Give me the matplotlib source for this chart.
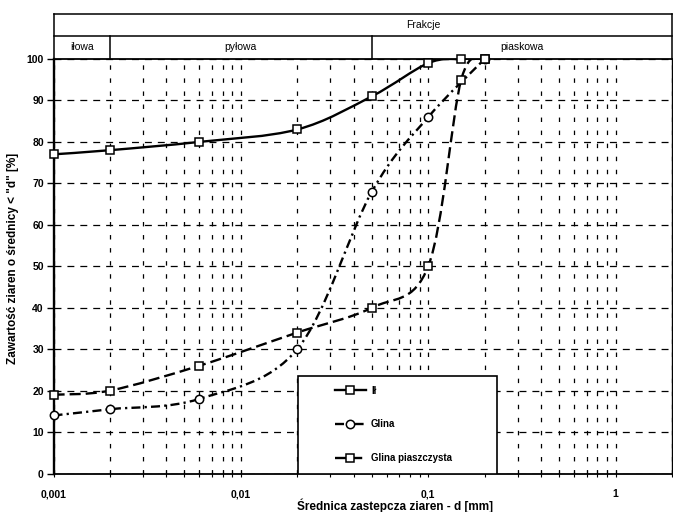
import numpy as np
import matplotlib
matplotlib.use("Agg")
import matplotlib.pyplot as plt
from matplotlib.path import Path
from matplotlib.patches import PathPatch, Rectangle
from matplotlib.lines import Line2D
from matplotlib.ticker import LogLocator, FixedLocator, FixedFormatter, NullFormatter
import matplotlib.transforms as mtransforms

plt.rcParams['font.family'] = ['Liberation Sans', 'DejaVu Sans']
plt.rcParams['lines.scale_dashes'] = False

# ---------- dane -------------------------------------------------------------
d_il = [0.001, 0.002, 0.006, 0.02, 0.05, 0.1, 0.15, 0.2]
p_il = [77, 78, 80, 83, 91, 99, 100, 100]

d_glina = [0.001, 0.002, 0.006, 0.02, 0.05, 0.1, 0.2]
p_glina = [14, 15.5, 18, 30, 68, 86, 100]

d_gp = [0.001, 0.002, 0.006, 0.02, 0.05, 0.1, 0.15, 0.2]
p_gp = [19, 20, 26, 34, 40, 50, 95, 100]

x_ticks = [0.001, 0.01, 0.1, 1]
x_ticklabels = ["0,001", "0,01", "0,1", "1"]
y_ticks = list(range(0, 101, 10))

frakcje_bounds = [0.001, 0.002, 0.05, 2]
frakcje_names = ["iłowa", "pyłowa", "piaskowa"]

# ---------- style ------------------------------------------------------------
DASH_GP = (0, (8.0, 3.6))
DASH_GL = (0, (6.5, 3.0, 1.6, 3.0))
DASH_H = (0, (5.0, 4.3))
DASH_V = (0, (3.2, 6.2))


def smooth_path(xs, ys):
    # krzywa wygladzona (Catmull-Rom -> Bezier) w przestrzeni log(x), y
    P = np.column_stack([np.log10(xs), ys]).astype(float)
    verts = [P[0]]
    codes = [Path.MOVETO]
    for i in range(len(P) - 1):
        p0 = P[i - 1] if i > 0 else P[i]
        p3 = P[i + 2] if i + 2 < len(P) else P[i + 1]
        c1 = P[i] + (P[i + 1] - p0) / 6.0
        c2 = P[i + 1] - (p3 - P[i]) / 6.0
        verts += [c1, c2, P[i + 1]]
        codes += [Path.CURVE4] * 3
    verts = np.array(verts)
    verts[:, 0] = 10 ** verts[:, 0]
    return Path(verts, codes)


W, H = 673, 512
fig = plt.figure(figsize=(W / 100, H / 100), dpi=100)
L, R, B, T = 53.5, 672, 473.5, 59
ax = fig.add_axes([L / W, 1 - B / H, (R - L) / W, (B - T) / H])

ax.set_xscale("log")
ax.set_xlim(0.001, 2)
ax.set_ylim(0, 100)

# siatka
ax.xaxis.set_major_locator(FixedLocator(x_ticks))
ax.xaxis.set_major_formatter(FixedFormatter(x_ticklabels))
ax.xaxis.set_minor_locator(LogLocator(base=10, subs=np.arange(2, 10), numticks=20))
ax.xaxis.set_minor_formatter(NullFormatter())
ax.set_yticks(y_ticks)

ax.grid(which="major", axis="y", color="black", lw=0.9, linestyle=DASH_H)
ax.grid(which="both", axis="x", color="black", lw=0.9, linestyle=DASH_V)
ax.set_axisbelow(True)

for side, lw in [("left", 1.7), ("bottom", 1.3), ("top", 1.3), ("right", 1.0)]:
    ax.spines[side].set_linewidth(lw)
    ax.spines[side].set_color("black")

ax.tick_params(axis="y", which="major", direction="out", length=5, width=1,
               labelsize=7.5, pad=2)
ax.tick_params(axis="x", which="both", direction="inout", length=5, width=0.8,
               labelsize=7.5, pad=9)
for lab in ax.get_xticklabels() + ax.get_yticklabels():
    lab.set_fontweight("bold")

# krzywe
styles = [
    (d_il, p_il, "-", "s", "Ił"),
    (d_glina, p_glina, DASH_GL, "o", "Glina"),
    (d_gp, p_gp, DASH_GP, "s", "Glina piaszczysta"),
]
handles = []
for xs, ys, ls, mk, name in styles:
    patch = PathPatch(smooth_path(xs, ys), facecolor="none", edgecolor="black",
                      lw=1.7, linestyle=ls, zorder=3)
    ax.add_patch(patch)
    ax.plot(xs, ys, linestyle="none", marker=mk, ms=6, mfc="white",
            mec="black", mew=1.1, zorder=4, clip_on=False)
    handles.append(Line2D([], [], color="black", lw=1.7, linestyle=ls,
                          marker=mk, ms=6, mfc="white", mec="black", mew=1.1))

# ramka legendy
ax.add_patch(Rectangle((0.395, 0.0), 0.717 - 0.395, 0.235, transform=ax.transAxes,
                       facecolor="white", edgecolor="black", lw=1.2, zorder=5))
leg = ax.legend(handles, [s[4] for s in styles], loc="upper left",
                bbox_to_anchor=(0.455, 0.212), frameon=False, borderpad=0,
                borderaxespad=0, handlelength=3.2, handletextpad=0.5,
                labelspacing=2.45, prop={"size": 7, "weight": "bold"})
leg.set_zorder(6)

# tabela frakcji nad wykresem
trans = mtransforms.blended_transform_factory(ax.transData, ax.transAxes)
y_top = (B - 14) / (B - T)
y_mid = (B - 35.5) / (B - T)
kw = dict(color="black", lw=1.1, clip_on=False, transform=trans)
ax.add_line(Line2D([0.001, 2], [y_top, y_top], **kw))
ax.add_line(Line2D([0.001, 2], [y_mid, y_mid], **kw))
ax.add_line(Line2D([0.001, 0.001], [1, y_top], **kw))
ax.add_line(Line2D([2, 2], [1, y_top], **kw))
for xb in frakcje_bounds[1:-1]:
    ax.add_line(Line2D([xb, xb], [1, y_mid], **kw))
for i, name in enumerate(frakcje_names):
    xc = 10 ** ((np.log10(frakcje_bounds[i]) + np.log10(frakcje_bounds[i + 1])) / 2)
    ax.text(xc, (1 + y_mid) / 2, name, transform=trans, ha="center",
            va="center", fontsize=7.5)
fig.text(423 / W, 1 - 25 / H, "Frakcje", ha="center", va="center", fontsize=7.5)

# opisy osi
ax.set_ylabel('Zawartość ziaren o średnicy < "d" [%]', fontsize=8.5,
              fontweight="bold")
ax.yaxis.set_label_coords((19 - L) / (R - L), (B - 258) / (B - T))
fig.text(395 / W, 1 - 506 / H, "Średnica zastepcza ziaren - d [mm]",
         ha="center", va="center", fontsize=8.5, fontweight="bold")

fig.savefig("out.png", dpi=100)
